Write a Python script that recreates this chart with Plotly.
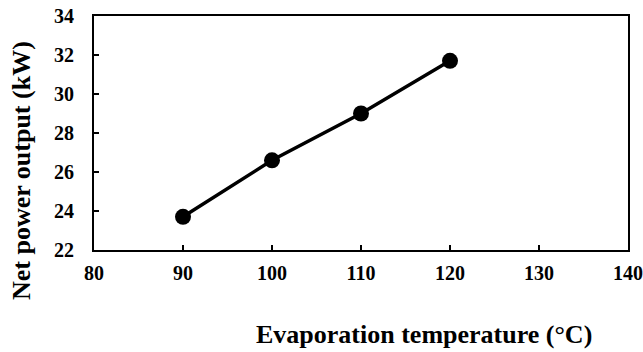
import plotly.graph_objects as go

temps = [90, 100, 110, 120]
net_power = [23.7, 26.6, 29.0, 31.7]
x_ticks = [80, 90, 100, 110, 120, 130, 140]
y_ticks = [22, 24, 26, 28, 30, 32, 34]
x_title = "Evaporation temperature (°C)"
y_title = "Net power output (kW)"

FONT = "Liberation Serif"

fig = go.Figure()
fig.add_trace(go.Scatter(
    x=temps, y=net_power, mode="lines+markers",
    line=dict(color="black", width=3.5),
    marker=dict(color="black", size=16),
    showlegend=False,
))

axis_common = dict(
    showline=True, linecolor="black", linewidth=2, mirror=True,
    ticks="inside", ticklen=5, tickwidth=1.5, tickcolor="black",
    showgrid=False, zeroline=False, automargin=False,
    tickfont=dict(family=FONT, size=20, color="black"),
)

fig.update_xaxes(range=[80, 140], tickvals=x_ticks,
                 ticktext=[f"<b>{v}</b>" for v in x_ticks],
                 ticklabelstandoff=4, **axis_common)
fig.update_yaxes(range=[22, 34], tickvals=y_ticks,
                 ticktext=[f"<b>{v}</b>" for v in y_ticks],
                 ticklabelstandoff=14, **axis_common)

fig.add_annotation(
    text=f"<b>{x_title}</b>", xref="paper", yref="paper",
    x=(424 - 94) / 534, y=(250 - 334) / 234, showarrow=False,
    xanchor="center", yanchor="middle",
    font=dict(family=FONT, size=26, color="black"),
)
fig.add_annotation(
    text=f"<b>{y_title}</b>", xref="paper", yref="paper",
    x=(21 - 94) / 534, y=(250 - 171) / 234, showarrow=False, textangle=-90,
    xanchor="center", yanchor="middle",
    font=dict(family=FONT, size=26, color="black"),
)

fig.update_layout(
    width=643, height=352,
    margin=dict(l=94, r=15, t=16, b=102),
    paper_bgcolor="white", plot_bgcolor="white",
)

fig.write_html("out.html", config={"displayModeBar": False},
               post_script="document.body.style.margin='0';")
